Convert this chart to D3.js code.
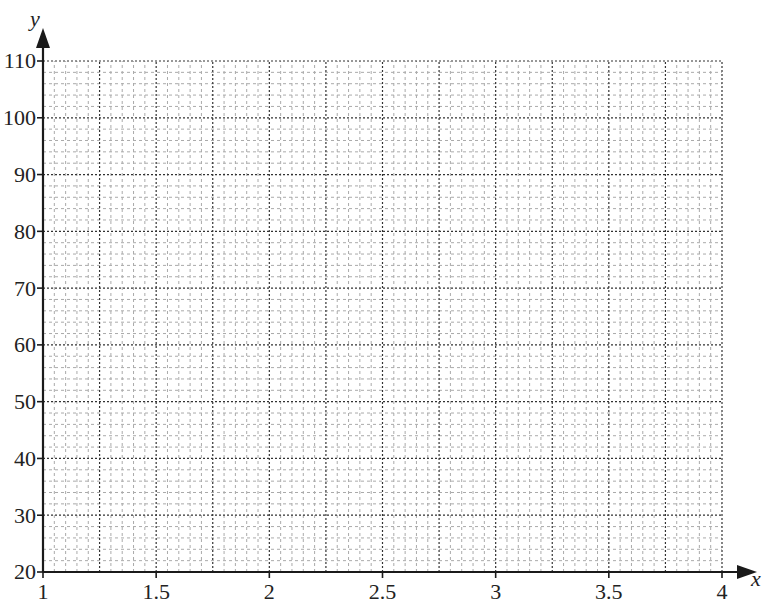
<!DOCTYPE html>
<html>
<head>
<meta charset="utf-8">
<script src="https://cdn.jsdelivr.net/npm/d3@7"></script>
<style>
  body { margin: 0; background: #fff; }
  text { font-family: "Times New Roman", "Liberation Serif", Times, serif; fill: #222; }
</style>
</head>
<body>
<div id="chart"></div>
<script>
// Axis ranges and tick labels
const xDomain = [1, 4];
const yDomain = [20, 110];
const xTickLabels = [1, 1.5, 2, 2.5, 3, 3.5, 4];
const yTickLabels = [20, 30, 40, 50, 60, 70, 80, 90, 100, 110];
const xMinorStep = 0.05, xMajorStep = 0.25;
const yMinorStep = 2, yMajorStep = 10;

const W = 763, H = 607;
const x = d3.scaleLinear().domain(xDomain).range([43, 722]);
const y = d3.scaleLinear().domain(yDomain).range([572, 61]);

const svg = d3.select("#chart").append("svg")
    .attr("width", W)
    .attr("height", H);

// grid values
const xs = d3.range(0, Math.round((xDomain[1] - xDomain[0]) / xMinorStep) + 1)
    .map(i => +(xDomain[0] + i * xMinorStep).toFixed(4));
const ys = d3.range(0, Math.round((yDomain[1] - yDomain[0]) / yMinorStep) + 1)
    .map(i => yDomain[0] + i * yMinorStep);
const isMajorX = v => Math.abs(v / xMajorStep - Math.round(v / xMajorStep)) < 1e-6;
const isMajorY = v => v % yMajorStep === 0;

const grid = svg.append("g");

// minor first, then major on top
grid.selectAll(".vminor").data(xs.filter(v => !isMajorX(v))).enter()
    .append("line")
    .attr("x1", d => x(d)).attr("x2", d => x(d))
    .attr("y1", y(yDomain[0])).attr("y2", y(yDomain[1]))
    .attr("stroke", "#aaa").attr("stroke-width", 1)
    .attr("stroke-dasharray", "3,3");
grid.selectAll(".hminor").data(ys.filter(v => !isMajorY(v))).enter()
    .append("line")
    .attr("x1", x(xDomain[0])).attr("x2", x(xDomain[1]))
    .attr("y1", d => y(d)).attr("y2", d => y(d))
    .attr("stroke", "#aaa").attr("stroke-width", 1)
    .attr("stroke-dasharray", "3,3");
grid.selectAll(".vmajor").data(xs.filter(v => isMajorX(v))).enter()
    .append("line")
    .attr("x1", d => x(d)).attr("x2", d => x(d))
    .attr("y1", y(yDomain[0])).attr("y2", y(yDomain[1]))
    .attr("stroke", "#333").attr("stroke-width", 1.2)
    .attr("stroke-dasharray", "2,2");
grid.selectAll(".hmajor").data(ys.filter(v => isMajorY(v))).enter()
    .append("line")
    .attr("x1", x(xDomain[0])).attr("x2", x(xDomain[1]))
    .attr("y1", d => y(d)).attr("y2", d => y(d))
    .attr("stroke", "#333").attr("stroke-width", 1.2)
    .attr("stroke-dasharray", "2,2");

// axes
const axisColor = "#1a1a1a";
svg.append("line")
    .attr("x1", x(xDomain[0])).attr("x2", 742)
    .attr("y1", y(yDomain[0])).attr("y2", y(yDomain[0]))
    .attr("stroke", axisColor).attr("stroke-width", 2.2);
svg.append("line")
    .attr("x1", x(xDomain[0])).attr("x2", x(xDomain[0]))
    .attr("y1", y(yDomain[0])).attr("y2", 44)
    .attr("stroke", axisColor).attr("stroke-width", 2.2);

// arrow heads
const ax = x(xDomain[0]), ay = y(yDomain[0]);
svg.append("path")
    .attr("d", `M${ax},28 L${ax - 7},48 L${ax + 7},48 Z`)
    .attr("fill", axisColor);
svg.append("path")
    .attr("d", `M757,${ay} L737,${ay - 7} L737,${ay + 7} Z`)
    .attr("fill", axisColor);

// ticks
svg.selectAll(".ytick").data(yTickLabels).enter()
    .append("line")
    .attr("x1", ax - 6).attr("x2", ax)
    .attr("y1", d => y(d)).attr("y2", d => y(d))
    .attr("stroke", axisColor).attr("stroke-width", 1.6);
svg.selectAll(".xtick").data(xTickLabels).enter()
    .append("line")
    .attr("x1", d => x(d)).attr("x2", d => x(d))
    .attr("y1", ay).attr("y2", ay + 6)
    .attr("stroke", axisColor).attr("stroke-width", 1.6);

// tick labels
svg.selectAll(".ylab").data(yTickLabels).enter()
    .append("text")
    .attr("x", ax - 7)
    .attr("y", d => y(d))
    .attr("dy", "0.34em")
    .attr("text-anchor", "end")
    .style("font-size", "22px")
    .text(d => d);
svg.selectAll(".xlab").data(xTickLabels).enter()
    .append("text")
    .attr("x", d => x(d))
    .attr("y", 599)
    .attr("text-anchor", "middle")
    .style("font-size", "22px")
    .text(d => d);

// axis names
svg.append("text")
    .attr("x", 35).attr("y", 26)
    .attr("text-anchor", "middle")
    .style("font-size", "22px")
    .style("font-style", "italic")
    .text("y");
svg.append("text")
    .attr("x", 756).attr("y", 586)
    .attr("text-anchor", "middle")
    .style("font-size", "22px")
    .style("font-style", "italic")
    .text("x");
</script>
</body>
</html>
